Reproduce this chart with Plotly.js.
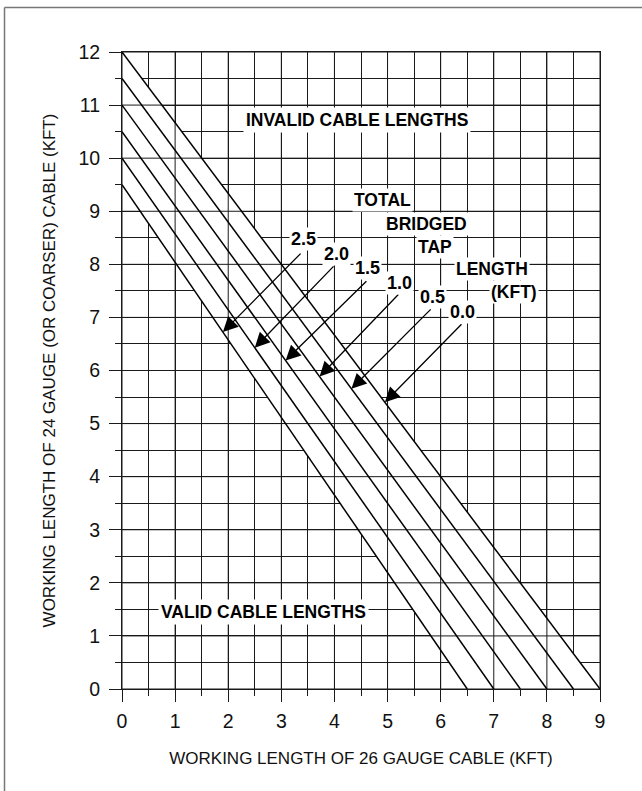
<!DOCTYPE html>
<html>
<head>
<meta charset="utf-8">
<script src="https://cdn.plot.ly/plotly-3.0.1.min.js"></script>
<style>
html,body{margin:0;padding:0;background:#fff;}
#chart{width:642px;height:791px;}
</style>
</head>
<body>
<div id="chart"></div>
<script>
// ---- data ----
var tapLengths = ['0.0', '0.5', '1.0', '1.5', '2.0', '2.5'];
var yIntercepts = [12, 11.5, 11, 10.5, 10, 9.5];   // 24 gauge length at 0 kft of 26 gauge
var xIntercepts = [9, 8.5, 8, 7.5, 7, 6.5];        // 26 gauge length at 0 kft of 24 gauge
var arrowHeadX = [4.95, 4.32, 3.72, 3.08, 2.5, 1.9];
var arrowTailX = [6.42, 5.84, 5.23, 4.63, 4.01, 3.39];
var arrowTailY = [6.90, 7.18, 7.46, 7.71, 7.99, 8.23];
var labelX = [6.42, 5.84, 5.23, 4.63, 4.03, 3.41];
var labelY = [7.10, 7.39, 7.65, 7.93, 8.19, 8.48];
var xTicks = [0, 1, 2, 3, 4, 5, 6, 7, 8, 9];
var yTicks = [0, 1, 2, 3, 4, 5, 6, 7, 8, 9, 10, 11, 12];
var headerWords = ['TOTAL', 'BRIDGED', 'TAP', 'LENGTH', '(KFT)'];
var headerX = [4.90, 5.74, 5.89, 6.97, 7.38];
var headerY = [9.21, 8.76, 8.33, 7.91, 7.48];

var FONT = 'Liberation Sans, Arial, Helvetica, sans-serif';
var GRID = '#1a1a1a';

function lineY(i, x) { return yIntercepts[i] * (1 - x / xIntercepts[i]); }

var traces = [];
// white band (no half-grid between the 0.0 and 2.5 lines)
var last = yIntercepts.length - 1;
traces.push({
  x: [0, xIntercepts[0], xIntercepts[last], 0, 0],
  y: [yIntercepts[0], 0, 0, yIntercepts[last], yIntercepts[0]],
  mode: 'lines', fill: 'toself', fillcolor: '#ffffff',
  line: {width: 0, color: 'rgba(0,0,0,0)'}, hoverinfo: 'skip', showlegend: false
});
// major grid lines
var gx = [], gy = [];
xTicks.forEach(function (v) { gx.push(v, v, null); gy.push(0, yTicks[yTicks.length - 1], null); });
yTicks.forEach(function (v) { gx.push(0, xTicks[xTicks.length - 1], null); gy.push(v, v, null); });
traces.push({x: gx, y: gy, mode: 'lines', line: {color: GRID, width: 1}, hoverinfo: 'skip', showlegend: false});
// bridged tap lines
for (var i = 0; i < tapLengths.length; i++) {
  traces.push({
    x: [0, xIntercepts[i]], y: [yIntercepts[i], 0], mode: 'lines',
    line: {color: '#000', width: 1.5}, name: tapLengths[i], showlegend: false
  });
}

var annotations = [];
for (var j = 0; j < tapLengths.length; j++) {
  annotations.push({
    x: arrowHeadX[j], y: lineY(j, arrowHeadX[j]), xref: 'x', yref: 'y',
    ax: arrowTailX[j], ay: arrowTailY[j], axref: 'x', ayref: 'y',
    text: '', showarrow: true, arrowhead: 2, arrowsize: 2.3, arrowwidth: 1.3, arrowcolor: '#000'
  });
  annotations.push({
    x: labelX[j], y: labelY[j], xref: 'x', yref: 'y', text: '<b>' + tapLengths[j] + '</b>',
    showarrow: false, bgcolor: '#fff', borderpad: 1,
    font: {family: FONT, size: 18, color: '#000'}
  });
}
for (var k = 0; k < headerWords.length; k++) {
  annotations.push({
    x: headerX[k], y: headerY[k], xref: 'x', yref: 'y', text: '<b>' + headerWords[k] + '</b>',
    showarrow: false, bgcolor: '#fff', borderpad: 1,
    font: {family: FONT, size: 17.5, color: '#000'}
  });
}
annotations.push({
  x: 4.42, y: 10.72, xref: 'x', yref: 'y', text: '<b>INVALID CABLE LENGTHS</b>',
  showarrow: false, bgcolor: '#fff', borderpad: 2, font: {family: FONT, size: 17.5, color: '#000'}
});
annotations.push({
  x: 2.67, y: 1.45, xref: 'x', yref: 'y', text: '<b>VALID CABLE LENGTHS</b>',
  showarrow: false, bgcolor: '#fff', borderpad: 2, font: {family: FONT, size: 17.5, color: '#000'}
});

var axisCommon = {
  showgrid: false, zeroline: false, showline: true, mirror: true,
  linecolor: GRID, linewidth: 1, ticks: 'outside', ticklen: 12, tickwidth: 1, tickcolor: GRID,
  tickfont: {family: FONT, size: 19.5, color: '#111'},
  minor: {dtick: 0.5, showgrid: true, gridcolor: GRID, gridwidth: 1, ticks: 'outside', ticklen: 6, tickwidth: 1, tickcolor: GRID}
};

var layout = {
  width: 642, height: 791,
  margin: {l: 122, r: 42, t: 52, b: 102},
  paper_bgcolor: '#fff', plot_bgcolor: '#fff',
  showlegend: false,
  xaxis: Object.assign({}, axisCommon, {
    range: [0, 9], tickmode: 'array', tickvals: xTicks, ticktext: xTicks.map(String),
    ticklabelstandoff: 3,
    title: {text: 'WORKING LENGTH OF 26 GAUGE CABLE (KFT)', font: {family: FONT, size: 17, color: '#111'}, standoff: 20}
  }),
  yaxis: Object.assign({}, axisCommon, {
    range: [0, 12], tickmode: 'array', tickvals: yTicks, ticktext: yTicks.map(String),
    ticklabelstandoff: 5,
    title: {text: 'WORKING LENGTH OF 24 GAUGE (OR COARSER) CABLE (KFT)', font: {family: FONT, size: 17, color: '#111'}, standoff: 18}
  }),
  annotations: annotations,
  shapes: [
    {type: 'line', xref: 'paper', yref: 'paper', x0: -0.2458, x1: -0.2458, y0: -0.3, y1: 1.0699, line: {color: '#777', width: 1.5}},
    {type: 'line', xref: 'paper', yref: 'paper', x0: -0.2458, x1: 1.3, y0: 1.0699, y1: 1.0699, line: {color: '#777', width: 1.5}}
  ]
};

Plotly.newPlot('chart', traces, layout, {displayModeBar: false, staticPlot: true});
</script>
</body>
</html>
